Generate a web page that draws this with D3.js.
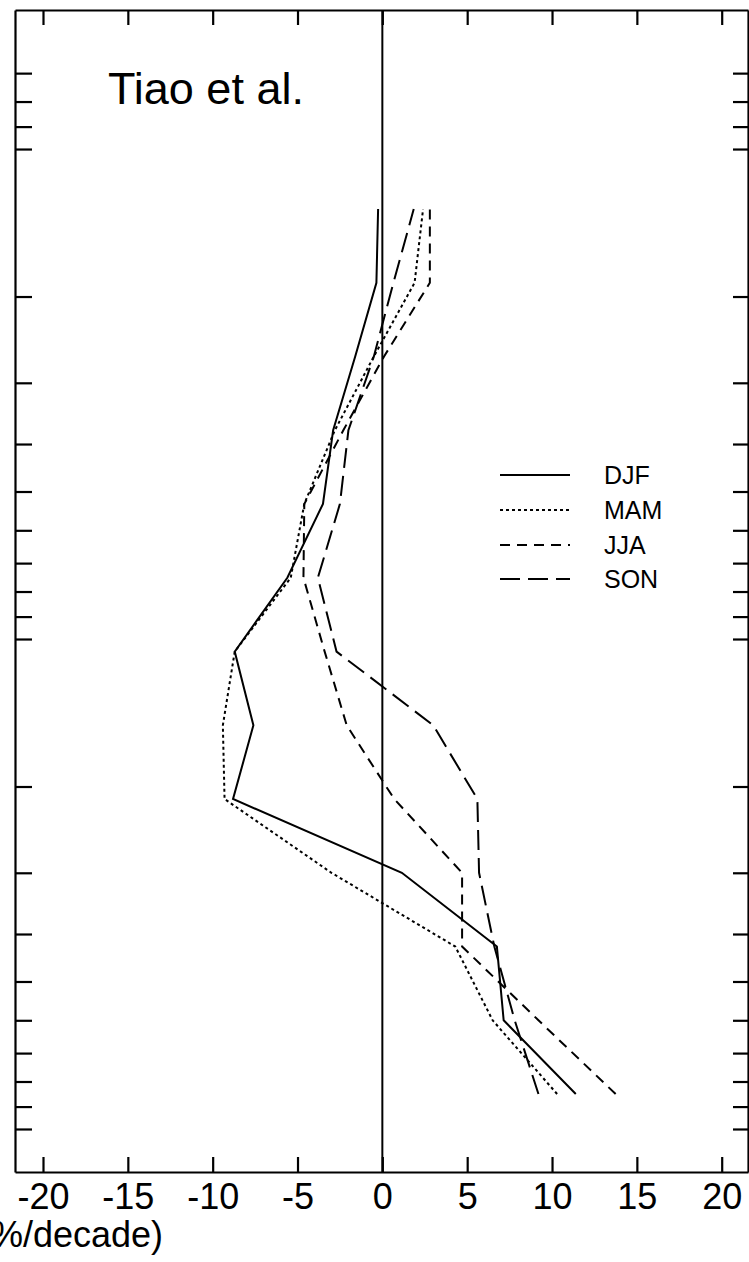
<!DOCTYPE html>
<html>
<head>
<meta charset="utf-8">
<script src="https://cdn.jsdelivr.net/npm/d3@7"></script>
<style>
  html, body { margin: 0; padding: 0; background: #fff; }
  svg { display: block; }
  text { font-family: "Liberation Sans", Arial, Helvetica, sans-serif; fill: #000; }
</style>
</head>
<body>
<svg id="chart" width="749" height="1262"></svg>
<script>
// ---- data ----
const levels = [848.5, 600, 424.3, 300, 212.1, 150, 106.1, 75, 53.0, 37.5, 26.5, 18.75, 13.26]; // hPa
const seriesNames = ["DJF", "MAM", "JJA", "SON"];
const DJF = [11.4, 7.15, 6.75, 1.15, -8.8, -7.6, -8.7, -5.6, -3.5, -2.9, -1.6, -0.35, -0.25];
const MAM = [10.3, 6.5, 4.3, -3.0, -9.3, -9.4, -8.7, -5.4, -4.6, -2.8, -0.5, 1.9, 2.4];
const JJA = [13.75, 9.2, 4.7, 4.7, 0.7, -2.1, -3.4, -4.65, -4.6, -2.3, 0.1, 2.8, 2.8];
const SON = [9.2, 7.8, 6.6, 5.7, 5.6, 3.0, -2.7, -3.8, -2.5, -2.0, -0.5, 0.65, 1.85];
const xTicks = [-20, -15, -10, -5, 0, 5, 10, 15, 20];
const yTicks = [7, 8, 9, 10, 20, 30, 40, 50, 60, 70, 80, 90, 100, 200, 300, 400, 500, 600, 700, 800, 900, 1000];
const title = "Tiao et al.";
const xLabel = "(%/decade)";

// ---- layout ----
const mLeft = 15, mRight = 748, mTop = 10, mBottom = 1172;
const svg = d3.select("#chart");
const x = d3.scaleLinear().domain([-21.65, 21.55]).range([mLeft, mRight]);
const y = d3.scaleLog().domain([5.203, 1224]).range([mTop, mBottom]);

const dashes = { DJF: null, MAM: "3,3", JJA: "10,7", SON: "20,8" };
const dataMap = { DJF, MAM, JJA, SON };

// zero line
svg.append("line")
  .attr("x1", x(0)).attr("x2", x(0))
  .attr("y1", mTop).attr("y2", mBottom)
  .attr("stroke", "#000").attr("stroke-width", 2);

// axes
const axStyle = g => {
  g.select(".domain").attr("stroke", "#000").attr("stroke-width", 2.2);
  g.selectAll(".tick line").attr("stroke", "#000").attr("stroke-width", 2.2);
};

const gB = svg.append("g").attr("transform", `translate(0,${mBottom})`)
  .call(d3.axisBottom(x).tickValues(xTicks).tickSizeInner(-15).tickSizeOuter(0).tickPadding(11)
    .tickFormat(d => String(d)))
  .call(axStyle);
gB.selectAll(".tick text").attr("font-size", 36).attr("font-family", "Liberation Sans, Arial, sans-serif");

svg.append("g").attr("transform", `translate(0,${mTop})`)
  .call(d3.axisTop(x).tickValues(xTicks).tickSizeInner(-15).tickSizeOuter(0).tickFormat(""))
  .call(axStyle);

svg.append("g").attr("transform", `translate(${mLeft},0)`)
  .call(d3.axisLeft(y).tickValues(yTicks).tickSizeInner(-17).tickSizeOuter(0).tickFormat(""))
  .call(axStyle);

svg.append("g").attr("transform", `translate(${mRight},0)`)
  .call(d3.axisRight(y).tickValues(yTicks).tickSizeInner(-15).tickSizeOuter(0).tickFormat(""))
  .call(axStyle);

// series lines
const line = d3.line().x(d => x(d[0])).y(d => y(d[1]));
seriesNames.forEach(name => {
  const pts = dataMap[name].map((v, i) => [v, levels[i]]);
  svg.append("path")
    .datum(pts)
    .attr("d", line)
    .attr("fill", "none")
    .attr("stroke", "#000")
    .attr("stroke-width", 2)
    .attr("stroke-dasharray", dashes[name]);
});

// title
svg.append("text").attr("x", 108).attr("y", 104)
  .attr("font-size", 45).text(title);

// x label
svg.append("text").attr("x", 163).attr("y", 1247)
  .attr("text-anchor", "end").attr("font-size", 36).text(xLabel);

// legend
const legY = [475, 510, 545, 579];
seriesNames.forEach((name, i) => {
  svg.append("line")
    .attr("x1", 500).attr("x2", 570)
    .attr("y1", legY[i]).attr("y2", legY[i])
    .attr("stroke", "#000").attr("stroke-width", 2)
    .attr("stroke-dasharray", dashes[name]);
  svg.append("text").attr("x", 604).attr("y", legY[i] + 9)
    .attr("font-size", 25).text(name);
});
</script>
</body>
</html>
